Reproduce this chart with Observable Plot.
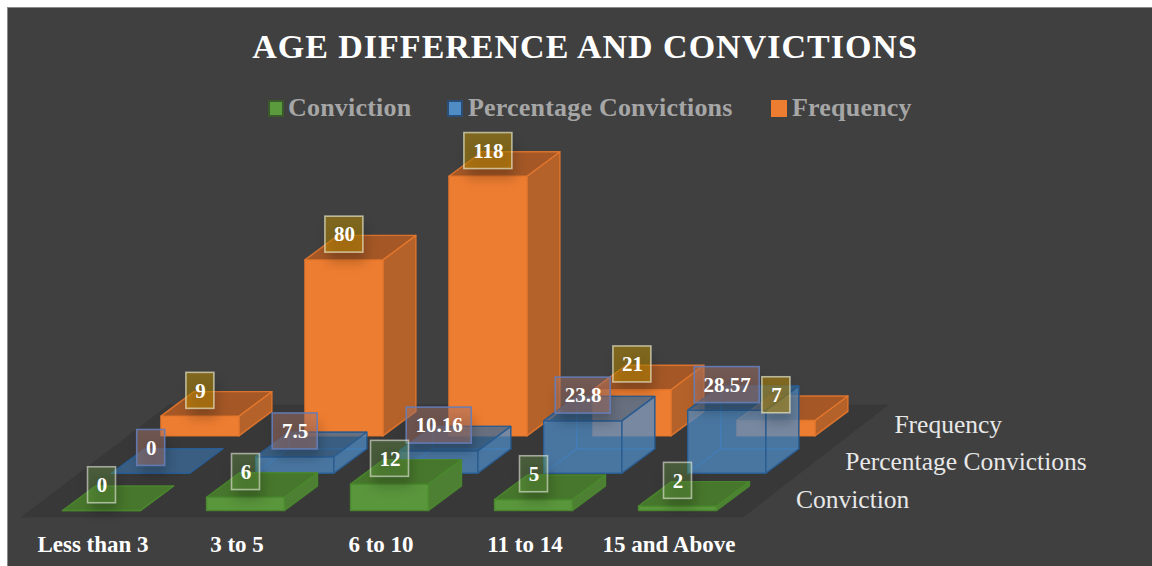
<!DOCTYPE html>
<html><head><meta charset="utf-8">
<script src="https://cdn.jsdelivr.net/npm/d3@7"></script>
<script src="https://cdn.jsdelivr.net/npm/@observablehq/plot@0.6"></script>
<style>
html,body{margin:0;padding:0;background:#fff;overflow:hidden}
#chart{position:absolute;left:7px;top:7px;width:1145px;height:559px;background:#404040;border-left:1px solid #8a8a8a;border-top:1px solid #8a8a8a;box-sizing:border-box;font-family:"Liberation Serif",serif;overflow:hidden}
#title{position:absolute;left:0;width:1154px;top:17px;text-align:center;color:#fff;font-weight:bold;font-size:34px;line-height:44px;letter-spacing:1px;white-space:nowrap}
#legend{position:absolute;left:0;top:84px;height:32px;width:100%;color:#a6a6a6;font-weight:bold;font-size:26px;line-height:32px;letter-spacing:.2px}
#legend span{position:absolute;top:0;white-space:nowrap}
#legend i{position:absolute;top:8px;width:16px;height:17px;box-sizing:border-box;border:2px solid}
#plot{position:absolute;left:-1px;top:121px}
#plot svg{display:block;background:transparent}
</style></head>
<body>
<div id="chart">
  <div id="title">AGE DIFFERENCE AND CONVICTIONS</div>
  <div id="legend"></div>
  <div id="plot"></div>
</div>
<script>
const categories = ["Less than 3", "3 to 5", "6 to 10", "11 to 14", "15 and Above"];
const seriesNames = ["Conviction", "Percentage Convictions", "Frequency"];
const conviction = [0, 6, 12, 5, 2];
const percentage = [0, 7.5, 10.16, 23.8, 28.57];
const frequency = [9, 80, 118, 21, 7];
const seriesValues = [conviction, percentage, frequency];

const palette = [
  {front:"#5a963c", right:"#4d8033", top:"#47772c", inner:"#47772c", edge:"#4a8a2e", alpha:1, label:"rgba(112,173,71,.32)", border:"rgba(235,235,225,.6)"},
  {front:"#4f8cc6", right:"#4f8cc6", top:"#3a6896", inner:"#4f8cc6", edge:"#2a5c90", alpha:.68, label:"rgba(165,115,105,.5)", border:"rgba(100,125,185,.9)"},
  {front:"#ed7d31", right:"#b5622a", top:"#a55826", inner:"#a55826", edge:"#e5782e", alpha:1, label:"rgba(191,144,0,.5)", border:"rgba(235,235,205,.68)"}
];

// oblique projection of (category, series, width 0..1, depth 0..1, value) to chart coordinates
const proj = (u, s, w = 0, d = 0, v = 0) => [
  62 + 144 * u + 49.2 * s + 78 * w + 33 * d,
  510 - 37.3 * s - 24.5 * d - 2.2 * v
];

const faceKinds = ["back", "left", "bottom", "right", "front", "top"];
const innerFaces = ["back", "left", "bottom"];
const faceCorners = v => ({
  back:   [[0,1,0],[1,1,0],[1,1,v],[0,1,v]],
  left:   [[0,0,0],[0,1,0],[0,1,v],[0,0,v]],
  bottom: [[0,0,0],[1,0,0],[1,1,0],[0,1,0]],
  right:  [[1,0,0],[1,1,0],[1,1,v],[1,0,v]],
  front:  [[0,0,0],[1,0,0],[1,0,v],[0,0,v]],
  top:    [[0,0,v],[1,0,v],[1,1,v],[0,1,v]]
});

const rows = [];
seriesValues.forEach((vals, s) => vals.forEach((v, i) => {
  const faces = faceCorners(v);
  for (const kind of faceKinds) {
    const pts = [...faces[kind], faces[kind][0]];
    pts.forEach(([w, d, h]) => {
      const [x, y] = proj(i, s, w, d, h);
      rows.push({s, kind, id: `${s}-${i}-${kind}`, x, y});
    });
  }
}));

const floorCorners = [[-0.227,-0.19],[4.79,-0.19],[4.77,2.84],[-0.23,2.84],[-0.227,-0.19]];
const floor = floorCorners.map(([u, s]) => { const [x, y] = proj(u, s); return {x, y}; });

const labelRows = [];
seriesValues.forEach((vals, s) => vals.forEach((v, i) => {
  const [cx, cy] = proj(i, s, 0.5, 0.5, v);
  const text = String(v);
  const w = 18 + text.replace(".", "").length * 10 + (text.includes(".") ? 7 : 0);
  const x = cx - 16, y = cy - 13;
  labelRows.push({s, text, x, y, x1: x - w / 2, x2: x + w / 2, y1: y - 18, y2: y + 18});
}));

const serif = "Liberation Serif";
const marks = [
  Plot.line(floor, {x: "x", y: "y", fill: "#383838", stroke: "none"})
];
[2, 1, 0].forEach(s => {
  const p = palette[s];
  for (const kind of faceKinds) {
    const fill = {front: p.front, right: p.right, top: p.top}[kind] ?? p.inner;
    const inner = innerFaces.includes(kind);
    if (p.alpha === 1 && inner) continue;
    marks.push(Plot.line(rows.filter(r => r.s === s && r.kind === kind), {
      x: "x", y: "y", z: "id",
      fill,
      fillOpacity: p.alpha === 1 ? 1 : (inner ? .22 : p.alpha),
      stroke: p.edge,
      strokeWidth: 1.4,
      strokeOpacity: inner ? .8 : .9,
      strokeLinejoin: "round"
    }));
  }
});
// soft shadow cast by each value box
marks.push(Plot.rect(labelRows, {
  x1: d => d.x1 + 3, x2: d => d.x2 + 3, y1: d => d.y1 + 10, y2: d => d.y2 + 10,
  fill: "#000", fillOpacity: .2, imageFilter: "blur(6px)"
}));
[2, 1, 0].forEach(s => {
  const p = palette[s];
  marks.push(Plot.rect(labelRows.filter(d => d.s === s), {
    x1: "x1", x2: "x2", y1: "y1", y2: "y2",
    fill: p.label, stroke: p.border, strokeWidth: 1.6
  }));
});
marks.push(Plot.text(labelRows, {
  x: "x", y: "y", text: "text", fill: "#fff",
  fontFamily: serif, fontWeight: "bold", fontSize: 21
}));
marks.push(Plot.text(categories, {
  x: (d, i) => proj(i, 0, 0.5)[0] - 8.5, y: () => 544, text: d => d, fill: "#fff",
  fontFamily: serif, fontWeight: "bold", fontSize: 23
}));
marks.push(Plot.text(seriesNames, {
  x: (d, i) => proj(5, i)[0] + 13.5, y: (d, i) => proj(5, i)[1] - 11, text: d => d,
  fill: "#e8e8e8", textAnchor: "start", fontFamily: serif, fontSize: 25.5
}));

const chart = Plot.plot({
  width: 1145, height: 437,
  margin: 0,
  x: {domain: [7, 1152], range: [0, 1145], axis: null},
  y: {domain: [129, 566], range: [0, 437], axis: null},
  marks
});
document.getElementById("plot").append(chart);

const legendEl = document.getElementById("legend");
const legendPos = [[268, 288], [447, 468], [771, 792]];
const swatch = [["#5c9a3e", "#3a5a2a"], ["#4f8cc4", "#2a4e78"], ["#ed7d31", "#ed7d31"]];
seriesNames.forEach((n, i) => {
  const b = document.createElement("i");
  b.style.left = (legendPos[i][0] - 8) + "px";
  b.style.background = swatch[i][0];
  b.style.borderColor = swatch[i][1];
  legendEl.append(b);
  const t = document.createElement("span");
  t.textContent = n;
  t.style.left = (legendPos[i][1] - 8) + "px";
  legendEl.append(t);
});
</script>
</body></html>
